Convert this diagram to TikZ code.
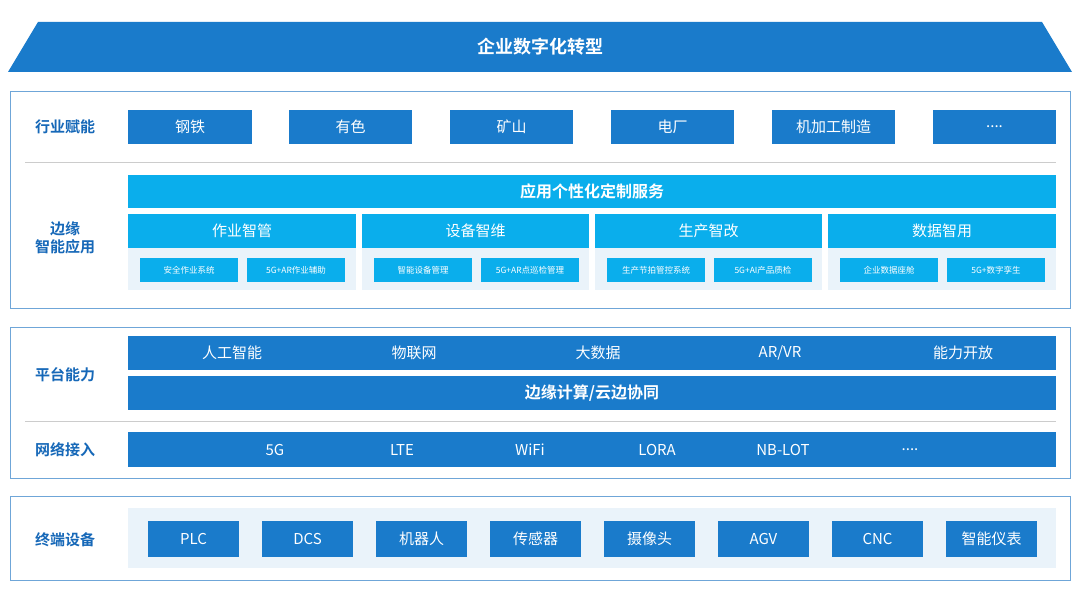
\documentclass[tikz,border=0pt]{standalone}
\usepackage{fontspec}
\setmainfont{Noto Sans CJK SC}
\newfontfamily\cjkb{Noto Sans CJK SC Bold}
\definecolor{dblue}{HTML}{1A7BCB}
\definecolor{cyanb}{HTML}{0AAEEC}
\definecolor{frameb}{HTML}{6FA6D8}
\definecolor{lbl}{HTML}{1668B8}
\definecolor{pale}{HTML}{EAF3FA}
\begin{document}
\begin{tikzpicture}[x=1pt,y=-1pt,
  frame/.style={draw=frameb,line width=1pt,fill=white},
  lab/.style={text=lbl,font=\cjkb\fontsize{15}{18}\selectfont,align=center},
  wt/.style={text=white,font=\fontsize{15}{15}\selectfont}]
\useasboundingbox (0,0) rectangle (1080,607);
\fill[white] (0,0) rectangle (1080,607);
% top banner
\fill[dblue] (38,22) -- (1042,22) -- (1072,72) -- (8,72) -- cycle;
\node[text=white,font=\cjkb\fontsize{18}{18}\selectfont] (top) at (540,47) {企业数字化转型};
% frame 1
\draw[frame] (10,92) rectangle (1070,308);
\node[lab] (l1) at (65,127) {行业赋能};
\foreach \a/\b/\t [count=\i] in {128/252/钢铁,289/412/有色,450/573/矿山,611/734/电厂,772/895/机加工制造,933/1056/{....}}{
  \fill[dblue] (\a,110) rectangle (\b,144);
  \node[wt] (ind\i) at ({(\a+\b)/2},127) {\t};
}
\draw[gray!40,line width=0.8pt] (25,162) -- (1056,162);
\node[lab] (l2) at (65,238) {边缘\\智能应用};
\fill[cyanb] (128,175) rectangle (1056,208);
\node[text=white,font=\cjkb\fontsize{16}{16}\selectfont] (svc) at (592,191.5) {应用个性化定制服务};
\foreach \a/\b/\h/\s/\u [count=\i] in {128/356/作业智管/安全作业系统/5G+AR作业辅助,362/589/设备智维/智能设备管理/5G+AR点巡检管理,595/822/生产智改/生产节拍管控系统/5G+AI产品质检,828/1056/数据智用/企业数据座舱/5G+数字孪生}{
  \fill[cyanb] (\a,214) rectangle (\b,248);
  \fill[pale] (\a,248) rectangle (\b,290);
  \node[wt] (h\i) at ({(\a+\b)/2},231) {\h};
  \fill[cyanb] (\a+12,258) rectangle (\a+110,282);
  \fill[cyanb] (\a+119,258) rectangle (\a+217,282);
  \node[text=white,font=\fontsize{8.5}{9}\selectfont] (sa\i) at (\a+61,270) {\s};
  \node[text=white,font=\fontsize{8.5}{9}\selectfont] (sb\i) at (\a+168,270) {\u};
}
% frame 2
\draw[frame] (10,327) rectangle (1070,478);
\node[lab] (l3) at (65,375) {平台能力};
\node[lab] (l4) at (65,450) {网络接入};
\fill[dblue] (128,336) rectangle (1056,370);
\foreach \x/\t [count=\i] in {232/人工智能,414/物联网,598/大数据,780/{AR/VR},963/能力开放}{
  \node[wt] (p\i) at (\x,353) {\t};
}
\fill[dblue] (128,376) rectangle (1056,410);
\node[text=white,font=\cjkb\fontsize{16}{16}\selectfont] (edge) at (592,393) {边缘计算/云边协同};
\draw[gray!40,line width=0.8pt] (25,421) -- (1056,421);
\fill[dblue] (128,432) rectangle (1056,467);
\foreach \x/\t [count=\i] in {275/5G,402/LTE,530/WiFi,657/LORA,783/NB-LOT,910/{....}}{
  \node[wt] (n\i) at (\x,450) {\t};
}
% frame 3
\draw[frame] (10,496) rectangle (1070,580);
\node[lab] (l5) at (65,540) {终端设备};
\fill[pale] (128,508) rectangle (1056,568);
\foreach \t [count=\i] in {PLC,DCS,机器人,传感器,摄像头,AGV,CNC,智能仪表}{
  \fill[dblue] ({148+(\i-1)*114},521) rectangle ({239+(\i-1)*114},557);
  \node[wt] (d\i) at ({193.5+(\i-1)*114},539) {\t};
}
\end{tikzpicture}
\end{document}
